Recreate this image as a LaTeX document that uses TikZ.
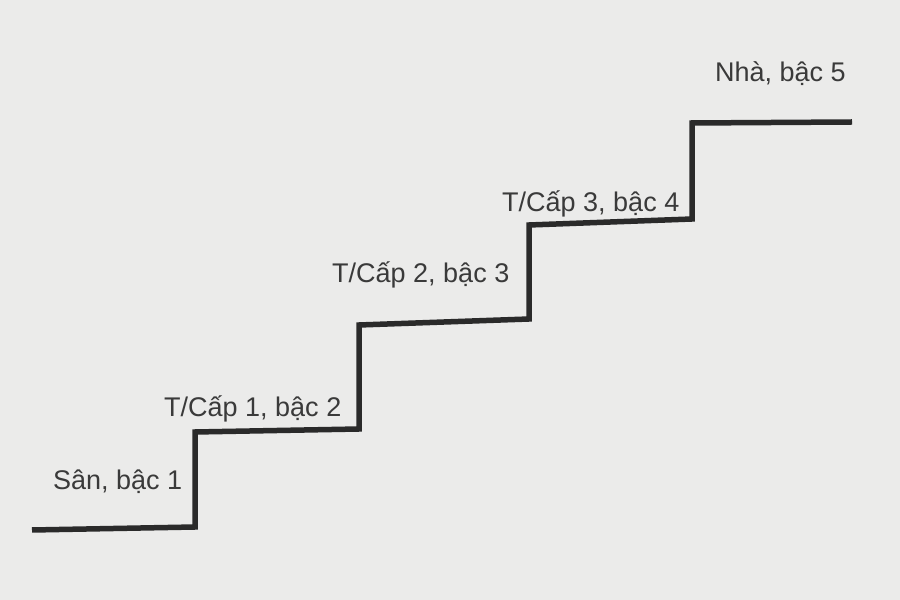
\documentclass[tikz,border=0pt]{standalone}
\usepackage{fontspec}
\setmainfont{Liberation Sans}
\definecolor{bg}{HTML}{EBEBEA}
\definecolor{ink}{HTML}{2A2A2A}
\definecolor{txt}{HTML}{3A3A3A}
\begin{document}
\begin{tikzpicture}[x=1pt,y=1pt,
  lbl/.style={anchor=base west,inner sep=0pt,text=txt,font=\fontsize{27}{32}\selectfont},
  stair/.style={draw=ink,line width=5.5pt,line join=miter}]
\fill[bg] (0,0) rectangle (900,600);
\useasboundingbox (0,0) rectangle (900,600);
% staircase (y = 600 - pixel row)
\coordinate (s0) at (32,70);
\coordinate (s1) at (195,73);
\coordinate (s2) at (195,168);
\coordinate (s3) at (359,171);
\coordinate (s4) at (359,275);
\coordinate (s5) at (529,281);
\coordinate (s6) at (529,375);
\coordinate (s7) at (692,381);
\coordinate (s8) at (692,477);
\coordinate (s9) at (852,478);
\draw[stair] (s0) -- (s1) -- (s2) -- (s3) -- (s4) -- (s5) -- (s6) -- (s7) -- (s8) -- (s9);
% labels
\node[lbl] (l1) at (53,110) {Sân, bậc 1};
\node[lbl] (l2) at (164,183) {T/Cấp 1, bậc 2};
\node[lbl] (l3) at (332,317) {T/Cấp 2, bậc 3};
\node[lbl] (l4) at (502,388) {T/Cấp 3, bậc 4};
\node[lbl] (l5) at (715,518) {Nhà, bậc 5};
\end{tikzpicture}
\end{document}
